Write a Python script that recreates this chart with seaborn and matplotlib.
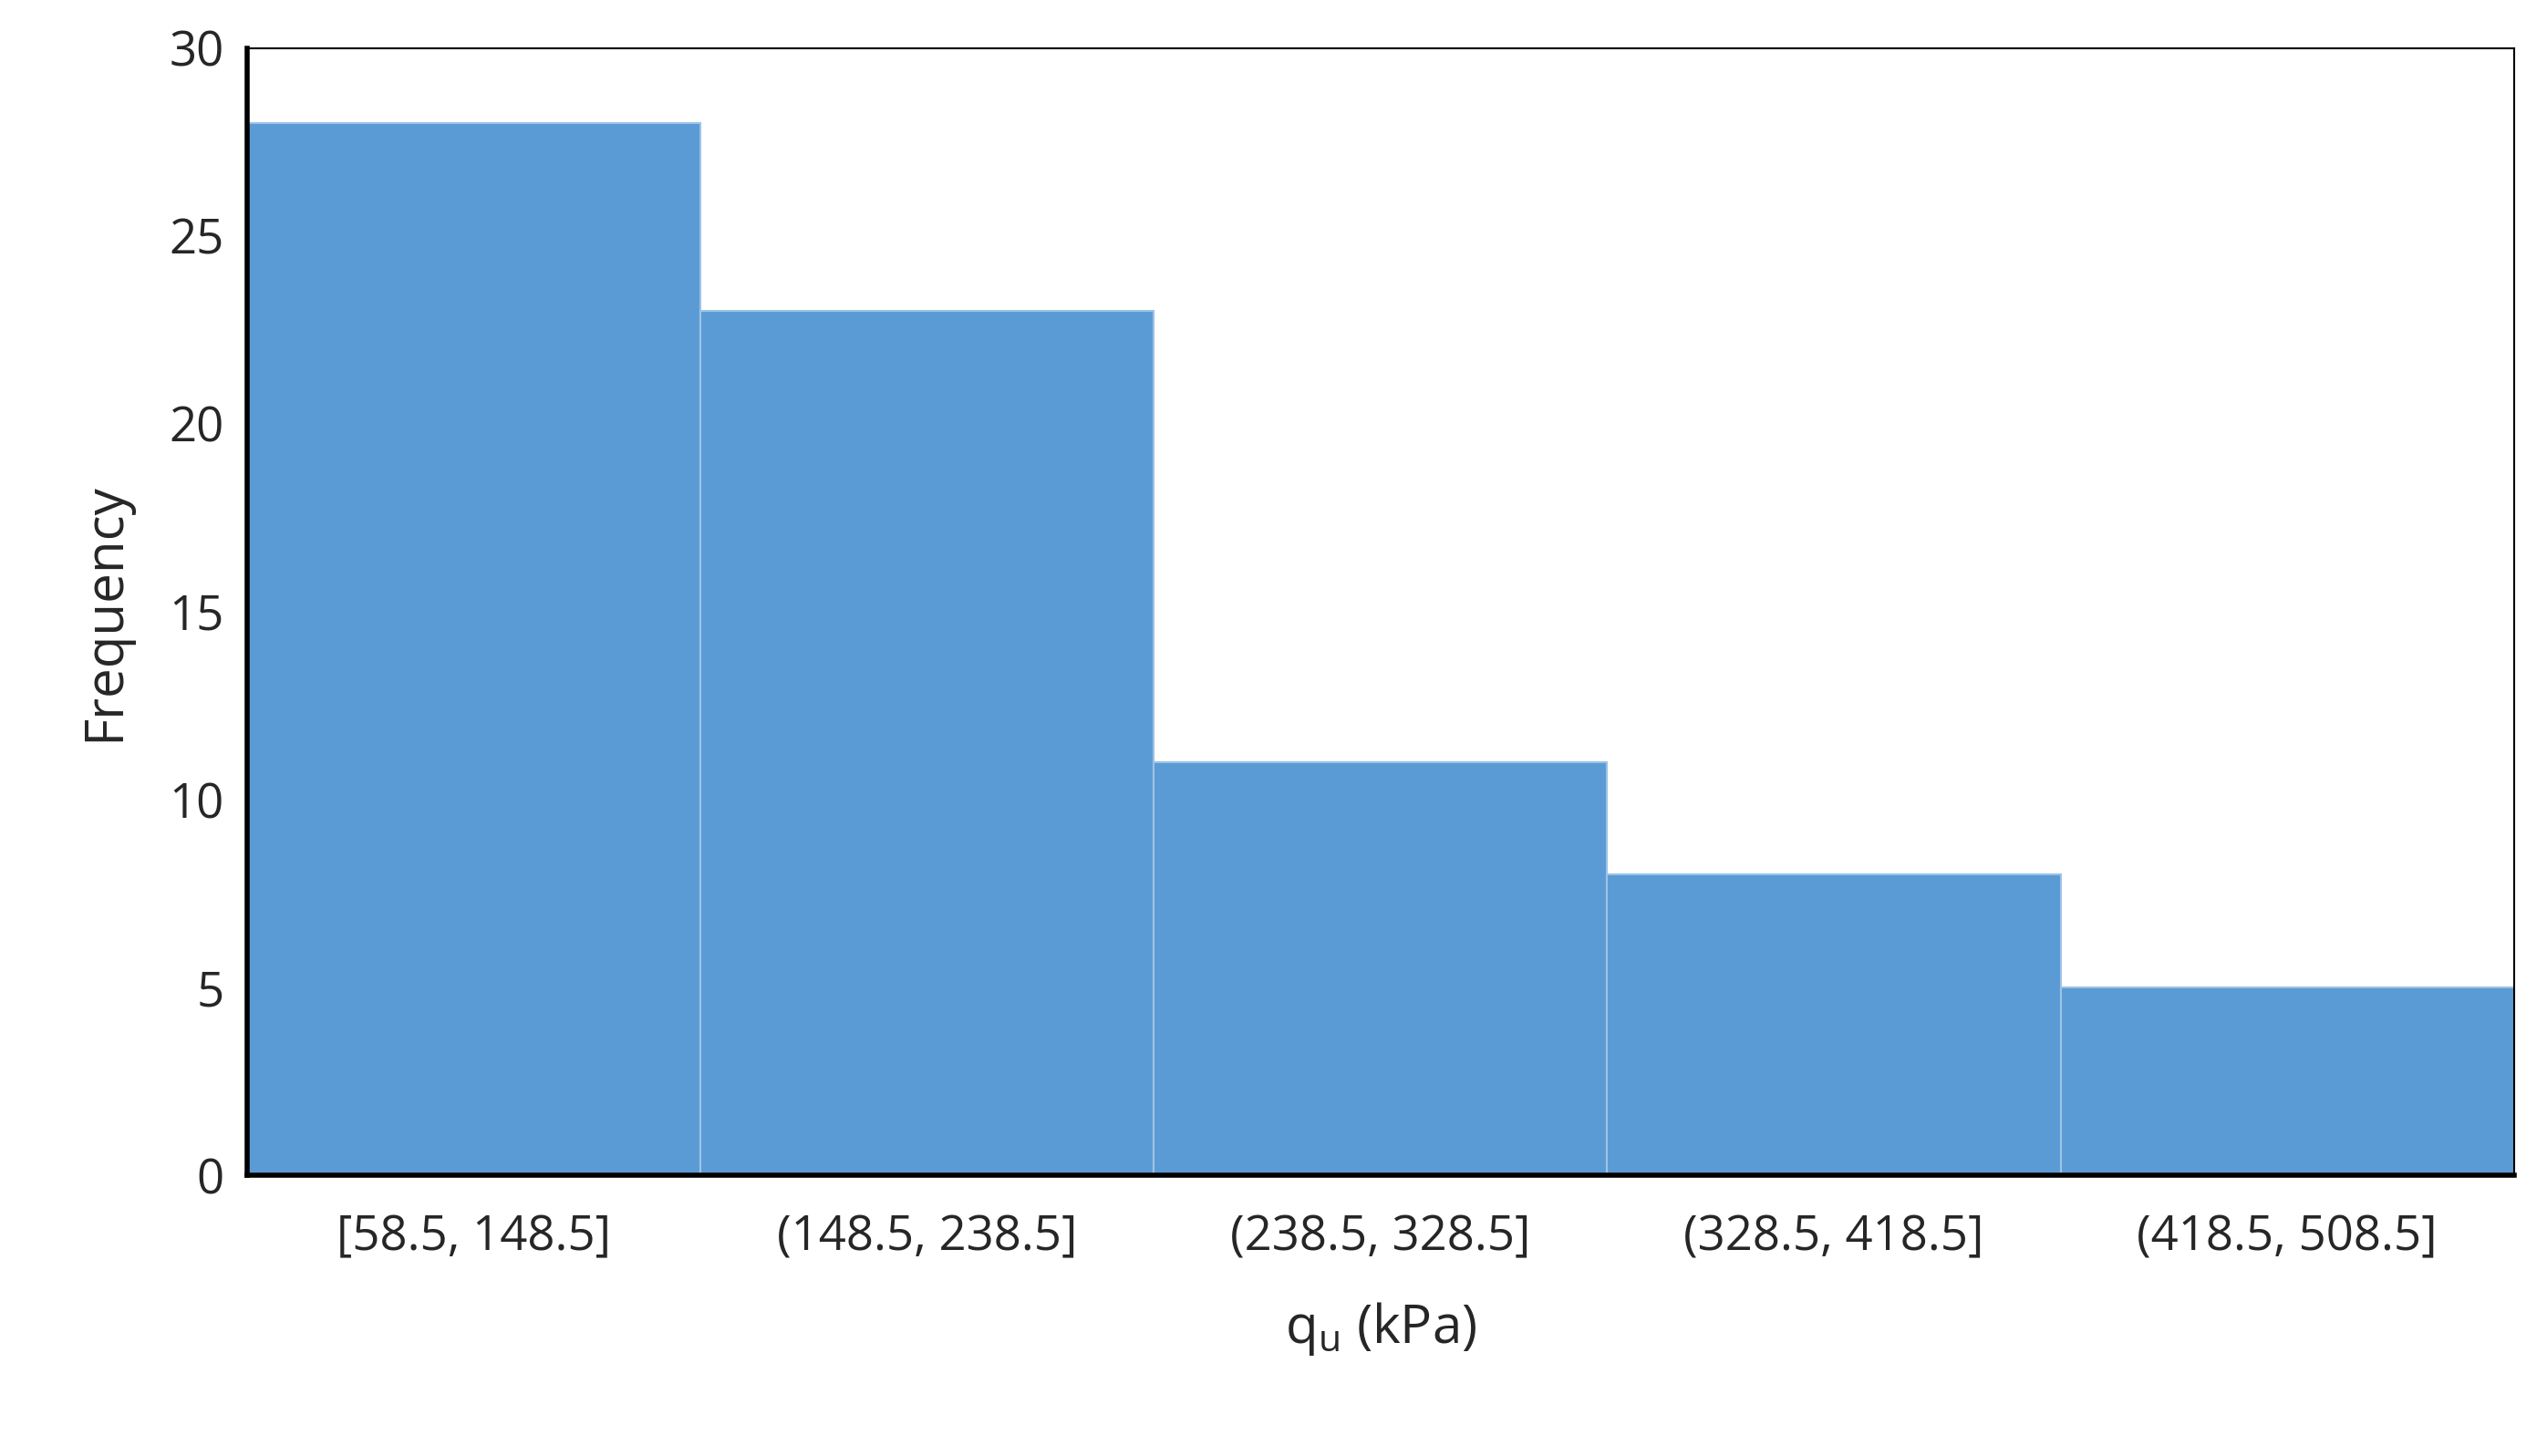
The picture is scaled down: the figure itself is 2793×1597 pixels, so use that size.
import matplotlib
matplotlib.use("Agg")
import matplotlib.pyplot as plt
import seaborn as sns
import pandas as pd

categories = ["[58.5, 148.5]", "(148.5, 238.5]", "(238.5, 328.5]", "(328.5, 418.5]", "(418.5, 508.5]"]
frequency = [28, 23, 11, 8, 5]
yticks = [0, 5, 10, 15, 20, 25, 30]

sns.set_theme(style="white")
plt.rcParams['font.family'] = ['Open Sans', 'DejaVu Sans']
plt.rcParams['mathtext.fontset'] = 'custom'
plt.rcParams['mathtext.rm'] = 'Open Sans'

df = pd.DataFrame({"bin": categories, "freq": frequency})
fig = plt.figure(figsize=(27.93, 15.97), dpi=100)
ax = fig.add_axes([0.097, 0.193, 0.89, 0.774])
sns.barplot(data=df, x="bin", y="freq", color="#5B9BD5", saturation=1, width=1.0,
            edgecolor="#9dc3e6", linewidth=1.5, ax=ax)
ax.set_xlim(-0.5, 4.5)
ax.set_ylim(0, 30)
ax.set_yticks(yticks)
ax.tick_params(axis='both', labelsize=38, length=0, pad=18)
ax.tick_params(axis='x', pad=30)
ax.set_ylabel("Frequency", fontsize=42, labelpad=30)
ax.set_xlabel(r"q$_\mathrm{u}$ (kPa)", fontsize=42, labelpad=30)
for s in ["left", "bottom"]:
    ax.spines[s].set_linewidth(4)
    ax.spines[s].set_color("black")
for s in ["top", "right"]:
    ax.spines[s].set_linewidth(1.5)
    ax.spines[s].set_color("black")
fig.savefig("out.png", dpi=100)
